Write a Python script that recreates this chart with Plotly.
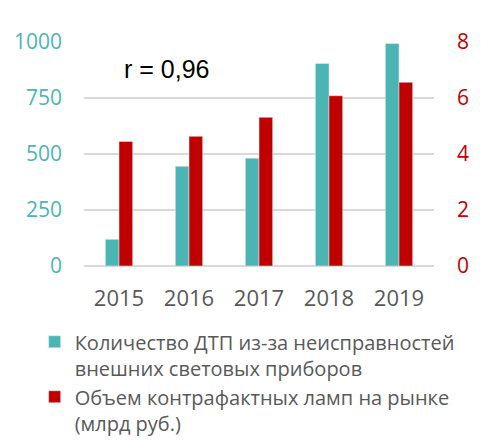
import plotly.graph_objects as go

years = ["2015", "2016", "2017", "2018", "2019"]
accidents = [119, 445, 481, 904, 993]
lamps = [4.45, 4.63, 5.31, 6.08, 6.56]

name_acc = "Количество ДТП из-за неисправностей<br>внешних световых приборов"
name_lamp = "Объем контрафактных ламп на рынке<br>(млрд руб.)"

teal = "#4BB5B3"
red = "#C00000"
gray = "#595959"
font = "Open Sans, Liberation Sans, sans-serif"

fig = go.Figure()
fig.add_trace(go.Bar(x=years, y=accidents, name=name_acc, marker_color=teal,
                     offsetgroup=0, yaxis="y"))
fig.add_trace(go.Bar(x=years, y=lamps, name=name_lamp, marker_color=red,
                     offsetgroup=1, yaxis="y2"))

# page body adds ~8px margin, so margins are shifted to compensate
fig.update_layout(
    width=493, height=450,
    margin=dict(l=76, r=67, t=34, b=192),
    plot_bgcolor="white", paper_bgcolor="white",
    barmode="group", bargap=0.61, bargroupgap=0,
    font=dict(family=font, color=gray, size=18),
    xaxis=dict(tickfont=dict(size=22, color=gray), ticks="outside",
               ticklen=13, tickcolor="white", showline=False, automargin=False),
    yaxis=dict(range=[0, 1000], dtick=250, showgrid=True, gridcolor="#D9D9D9",
               gridwidth=1.5, zeroline=True, zerolinecolor="#D9D9D9",
               zerolinewidth=1.5, tickfont=dict(size=21, color=teal),
               ticklabelstandoff=21, automargin=False),
    yaxis2=dict(range=[0, 8], dtick=2, overlaying="y", side="right",
                showgrid=False, zeroline=False, automargin=False,
                tickfont=dict(size=21, color=red), ticklabelstandoff=22),
    legend=dict(x=-0.141, y=-0.251, xanchor="left", yanchor="top",
                font=dict(size=20, color=gray), valign="top", itemwidth=30,
                tracegroupgap=0, borderwidth=0, bgcolor="rgba(0,0,0,0)"),
    showlegend=True,
)

fig.add_annotation(text="r = 0,96", xref="paper", yref="paper", x=0.237, y=0.878,
                   xanchor="center", yanchor="middle", showarrow=False,
                   font=dict(family="Liberation Sans, Arial", size=25, color="black"))

fig.write_html("out.html")
